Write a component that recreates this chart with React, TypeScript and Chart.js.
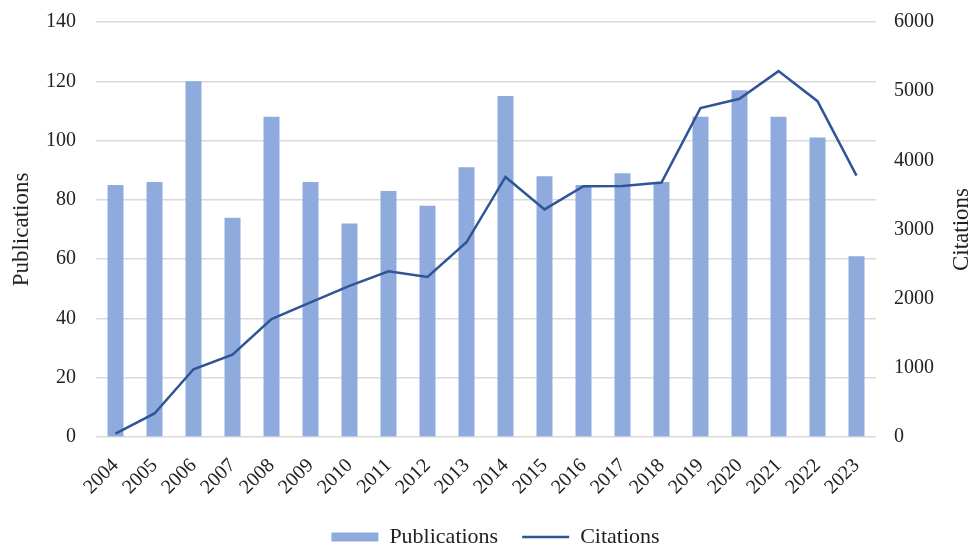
import React, { useEffect, useRef } from "react";
import { Chart, registerables } from "chart.js";

Chart.register(...registerables);

const years = ["2004","2005","2006","2007","2008","2009","2010","2011","2012","2013","2014","2015","2016","2017","2018","2019","2020","2021","2022","2023"];
const publications = [85, 86, 120, 74, 108, 86, 72, 83, 78, 91, 115, 88, 85, 89, 86, 108, 117, 108, 101, 61];
const citations = [50, 340, 980, 1190, 1705, 1945, 2185, 2395, 2315, 2815, 3760, 3290, 3625, 3630, 3680, 4755, 4890, 5290, 4855, 3780];

const FONT = "'Liberation Serif', 'Times New Roman', serif";
const TEXT = "#222222";
const BAR = "#8FAADC";
const LINE = "#2F5597";
const GRID = "#D9D9D9";

const axisTitlesPlugin = {
  id: "axisTitles",
  afterDraw(chart: any) {
    const { ctx, chartArea } = chart;
    const cy = (chartArea.top + chartArea.bottom) / 2;
    ctx.save();
    ctx.fillStyle = TEXT;
    ctx.font = `23px ${FONT}`;
    ctx.textAlign = "center";
    ctx.textBaseline = "middle";
    for (const [x, text] of [[22, "Publications"], [962, "Citations"]] as [number, string][]) {
      ctx.save();
      ctx.translate(x, cy);
      ctx.rotate(-Math.PI / 2);
      ctx.fillText(text, 0, 0);
      ctx.restore();
    }
    ctx.restore();
  },
};

function noVPad(scale: any) {
  scale.paddingTop = 0;
  scale.paddingBottom = 0;
}

export default function App() {
  const ref = useRef<HTMLCanvasElement | null>(null);
  useEffect(() => {
    document.body.style.margin = "0";
    const canvas = ref.current;
    if (!canvas) return;
    const chart = new Chart(canvas, {
      type: "bar",
      data: {
        labels: years,
        datasets: [
          {
            type: "line",
            label: "Citations",
            data: citations,
            yAxisID: "y1",
            borderColor: LINE,
            backgroundColor: LINE,
            borderWidth: 2.5,
            pointRadius: 0,
            tension: 0,
            order: 0,
            pointStyle: "line",
          } as any,
          {
            type: "bar",
            label: "Publications",
            data: publications,
            yAxisID: "y",
            backgroundColor: BAR,
            borderWidth: 0,
            barPercentage: 0.41,
            categoryPercentage: 1,
            order: 1,
            pointStyle: "rect",
          } as any,
        ],
      },
      options: {
        responsive: false,
        animation: false,
        layout: { padding: { top: 22, bottom: -12, left: 18, right: 0 } },
        plugins: {
          tooltip: { enabled: false },
          legend: {
            position: "bottom",
            reverse: true,
            labels: {
              usePointStyle: true,
              pointStyleWidth: 47,
              boxHeight: 9,
              padding: 24,
              color: TEXT,
              font: { family: FONT, size: 22 },
            },
          },
        },
        scales: {
          x: {
            grid: { display: false },
            border: { display: false },
            ticks: {
              color: TEXT,
              font: { family: FONT, size: 20 },
              maxRotation: 45,
              minRotation: 45,
              autoSkip: false,
              padding: 9,
            },
            afterFit(scale: any) {
              scale.height = 65;
            },
          },
          y: {
            position: "left",
            min: 0,
            max: 140,
            ticks: {
              stepSize: 20,
              color: TEXT,
              font: { family: FONT, size: 20 },
              padding: 20,
            },
            grid: { color: GRID, lineWidth: 1.5, drawTicks: false },
            border: { display: false },
            afterFit(scale: any) {
              scale.width = 78;
              noVPad(scale);
            },
          },
          y1: {
            position: "right",
            min: 0,
            max: 6000,
            ticks: {
              stepSize: 1000,
              color: TEXT,
              font: { family: FONT, size: 20 },
              padding: 18,
              callback: (v: any) => String(v),
            },
            grid: { display: false, drawTicks: false },
            border: { display: false },
            afterFit(scale: any) {
              scale.width = 97;
              noVPad(scale);
            },
          },
        },
      },
      plugins: [axisTitlesPlugin],
    } as any);
    return () => chart.destroy();
  }, []);
  return <canvas ref={ref} width={973} height={546} style={{ display: "block" }} />;
}
